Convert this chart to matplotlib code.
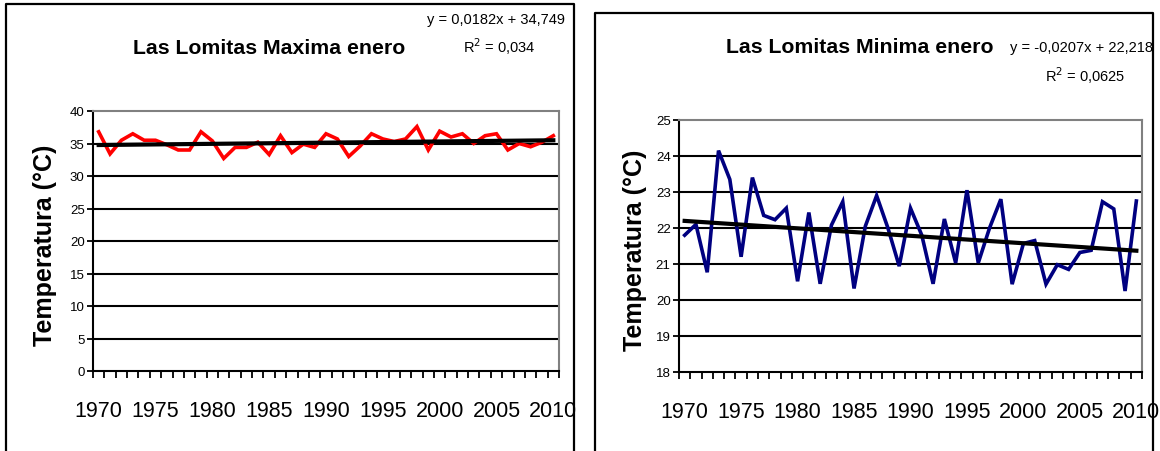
import matplotlib
matplotlib.use("Agg")
import matplotlib.pyplot as plt
from matplotlib import font_manager
from matplotlib.lines import Line2D
import numpy as np

# ---------------- data ----------------
years = list(range(1970, 2011))
tick_labels = ["1970", "1975", "1980", "1985", "1990", "1995", "2000", "2005", "2010"]

tmax = [36.8, 33.4, 35.5, 36.5, 35.5, 35.5, 34.8, 34.0, 34.0, 36.8,
        35.4, 32.7, 34.4, 34.4, 35.2, 33.3, 36.2, 33.6, 34.9, 34.4,
        36.5, 35.7, 33.0, 34.6, 36.5, 35.7, 35.3, 35.7, 37.6, 34.0,
        36.9, 36.0, 36.5, 35.0, 36.2, 36.5, 34.0, 35.0, 34.5, 35.2, 36.2]

tmin = [21.8, 22.1, 20.77, 24.15, 23.35, 21.2, 23.4, 22.35, 22.23, 22.55,
        20.52, 22.43, 20.45, 22.08, 22.73, 20.32, 22.05, 22.9, 22.0, 20.94,
        22.55, 21.8, 20.45, 22.25, 21.03, 23.05, 21.03, 22.0, 22.8, 20.44,
        21.57, 21.65, 20.44, 20.98, 20.85, 21.32, 21.38, 22.73, 22.53, 20.25, 22.75]

max_coef = (0.0182, 34.749)
min_coef = (-0.0207, 22.218)
max_eq = ["y = 0,0182x + 34,749", "R$^2$ = 0,034"]
min_eq = ["y = -0,0207x + 22,218", "R$^2$ = 0,0625"]
max_title = "Las Lomitas Maxima enero"
min_title = "Las Lomitas Minima enero"
ylabel = "Temperatura (°C)"
max_yticks = [0, 5, 10, 15, 20, 25, 30, 35, 40]
min_yticks = [18, 19, 20, 21, 22, 23, 24, 25]

# ---------------- fonts ----------------
avail = {f.name for f in font_manager.fontManager.ttflist}
narrow = "Liberation Sans Narrow" if "Liberation Sans Narrow" in avail else "Liberation Sans"
regular = "Liberation Sans"

W, H = 1160, 452
fig = plt.figure(figsize=(W / 100, H / 100), dpi=100)


def fx(px):
    return px / W


def fy(py):
    return 1 - py / H


# outer chart frames
def frame(x0, x1, ytop):
    fig.add_artist(Line2D([fx(x0), fx(x0), fx(x1), fx(x1)],
                          [0, fy(ytop), fy(ytop), 0],
                          transform=fig.transFigure, color="black", lw=1.6))


frame(6, 574, 5)
frame(595, 1153, 14)


def make_chart(rect, values, coef, color, yticks, title, eq, title_xy, eq_xy, ylabel_x):
    x0, x1, ytop, ybot = rect
    ax = fig.add_axes([fx(x0), fy(ybot), fx(x1) - fx(x0), fy(ytop) - fy(ybot)])
    n = len(values)
    idx = np.arange(n)
    ax.set_xlim(-0.5, n - 0.5)
    ax.set_ylim(yticks[0], yticks[-1])
    # gridlines
    for t in yticks[1:-1]:
        ax.axhline(t, color="black", lw=1.5, zorder=1)
    ax.plot(idx, values, color=color, lw=2.6, zorder=3, solid_joinstyle="miter")
    trend_x = idx + 1
    ax.plot(idx, coef[0] * trend_x + coef[1], color="black", lw=3.0, zorder=4)

    for s in ["top", "right"]:
        ax.spines[s].set_color("#808080")
        ax.spines[s].set_linewidth(1.5)
    for s in ["left", "bottom"]:
        ax.spines[s].set_color("black")
        ax.spines[s].set_linewidth(1.5)

    ax.set_yticks(yticks)
    ax.set_yticklabels([str(t) for t in yticks], fontfamily=narrow, fontsize=9.5)
    ax.tick_params(axis="y", direction="out", length=4, width=1.3, pad=2)

    ax.set_xticks(idx[::5])
    ax.set_xticklabels(tick_labels, fontfamily=narrow, fontsize=15.5)
    ax.set_xticks(np.arange(-0.5, n, 1.0), minor=True)
    ax.tick_params(axis="x", which="major", length=0, pad=21)
    ax.tick_params(axis="x", which="minor", direction="out", length=5, width=1.3)

    fig.text(fx(ylabel_x), fy((ytop + ybot) / 2 + 3), ylabel, rotation=90,
             ha="center", va="center", fontfamily=regular, fontweight="bold", fontsize=18)
    fig.text(fx(title_xy[0]), fy(title_xy[1]), title, ha="center", va="center",
             fontfamily=narrow, fontweight="bold", fontsize=15.3)
    fig.text(fx(eq_xy[0]), fy(eq_xy[1]), eq[0], ha="center", va="center",
             fontfamily=narrow, fontsize=10.5)
    fig.text(fx(eq_xy[0] + 3), fy(eq_xy[2]), eq[1], ha="center", va="center",
             fontfamily=narrow, fontsize=10.5)
    return ax


make_chart((93, 559, 112, 372), tmax, max_coef, "#FF0000", max_yticks,
           max_title, max_eq, (269, 49), (496, 20, 47), 45)
make_chart((679, 1142, 121, 373), tmin, min_coef, "#000080", min_yticks,
           min_title, min_eq, (860, 48), (1082, 48, 76), 635)

fig.savefig("out.png", dpi=100, facecolor="white")
